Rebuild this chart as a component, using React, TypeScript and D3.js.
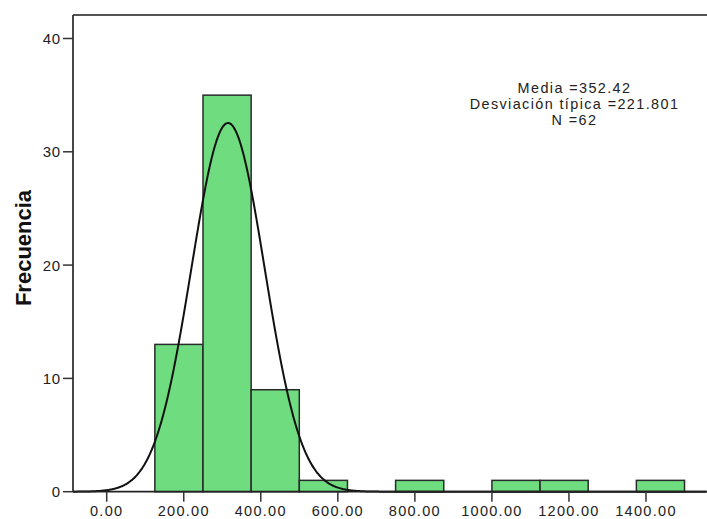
import React from "react";
import * as d3 from "d3";

const binStarts = [125, 250, 375, 500, 625, 750, 875, 1000, 1125, 1250, 1375];
const binCounts = [13, 35, 9, 1, 0, 1, 0, 1, 1, 0, 1];
const binWidth = 125;
const xTicks = [0, 200, 400, 600, 800, 1000, 1200, 1400];
const yTicks = [0, 10, 20, 30, 40];
const statLines = ["Media =352.42", "Desviación típica =221.801", "N =62"];
const curveMean = 315;
const curveSd = 95;
const curveN = 62;

export default function App() {
  const W = 707, H = 519;
  const left = 73, top = 15, bottom = 491.7, right = 707;
  const x = d3.scaleLinear().domain([0, 1400]).range([106.7, 646]);
  const y = d3.scaleLinear().domain([0, 40]).range([bottom, 38.5]);
  const xMin = x.invert(left), xMax = x.invert(right);

  const pdf = (v: number) =>
    (curveN * binWidth) / (curveSd * Math.sqrt(2 * Math.PI)) *
    Math.exp(-0.5 * ((v - curveMean) / curveSd) ** 2);
  const pts = d3.range(xMin, xMax, 2).map((v) => [v, pdf(v)] as [number, number]);
  const line = d3.line<[number, number]>().x((d) => x(d[0])).y((d) => y(d[1])).curve(d3.curveBasis);

  const font = "'Liberation Sans', Arial, sans-serif";
  return (
    <svg width={W} height={H} style={{ position: "absolute", left: 0, top: 0, background: "#fff" }}>
      <rect x={0} y={0} width={W} height={H} fill="#fff" />
      {binStarts.map((s, i) =>
        binCounts[i] > 0 ? (
          <rect key={i} x={x(s)} y={y(binCounts[i])} width={x(s + binWidth) - x(s)} height={bottom - y(binCounts[i])}
            fill="#6fdc80" stroke="#2a2a2a" strokeWidth={1.5} />
        ) : null
      )}
      <path d={line(pts) || ""} fill="none" stroke="#111" strokeWidth={2} />
      <line x1={left} x2={right} y1={top} y2={top} stroke="#555" strokeWidth={1.8} />
      <line x1={left} x2={left} y1={top} y2={bottom} stroke="#333" strokeWidth={1.8} />
      <line x1={left} x2={right} y1={bottom} y2={bottom} stroke="#222" strokeWidth={1.8} />
      {yTicks.map((t) => (
        <g key={t}>
          <line x1={63} x2={left} y1={y(t)} y2={y(t)} stroke="#333" strokeWidth={1.5} />
          <text x={61} y={y(t) + 5.5} textAnchor="end" fontFamily={font} fontSize={15} fill="#222" letterSpacing={0.8}>{t}</text>
        </g>
      ))}
      {xTicks.map((t) => (
        <g key={t}>
          <line x1={x(t)} x2={x(t)} y1={bottom} y2={bottom + 10} stroke="#333" strokeWidth={1.5} />
          <text x={x(t)} y={516} textAnchor="middle" fontFamily={font} fontSize={14.5} fill="#222" letterSpacing={1.3}>{t.toFixed(2)}</text>
        </g>
      ))}
      <text transform="translate(31,248) rotate(-90)" textAnchor="middle" fontFamily={font} fontSize={22} fontWeight="bold" fill="#111">Frecuencia</text>
      {statLines.map((s, i) => (
        <text key={i} x={574.5} y={92.5 + i * 16.2} textAnchor="middle" fontFamily={font} fontSize={14.4} letterSpacing={1.4} fill="#222">{s}</text>
      ))}
    </svg>
  );
}
